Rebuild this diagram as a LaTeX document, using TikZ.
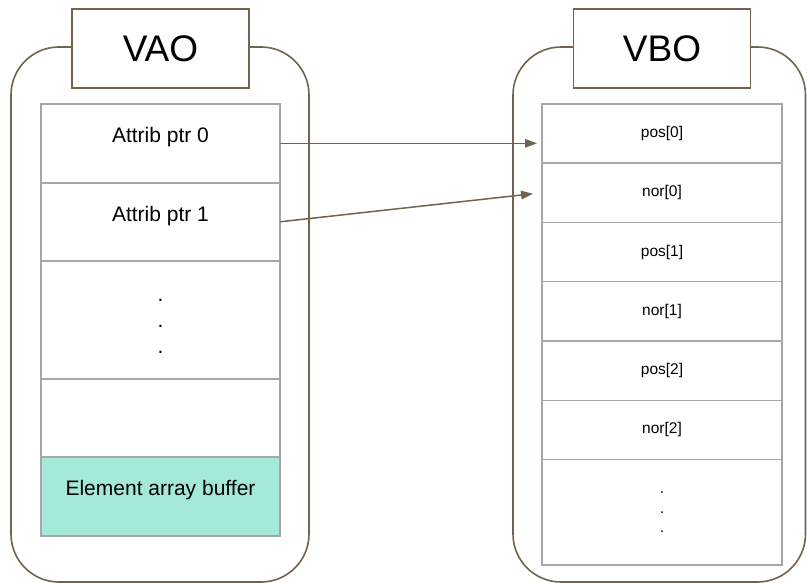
\documentclass[tikz,border=0pt]{standalone}
\usepackage{fontspec}
\setmainfont{Liberation Sans}
\usetikzlibrary{arrows.meta, positioning}
\definecolor{framebrown}{RGB}{112,100,78}
\definecolor{cellgray}{RGB}{166,166,166}
\definecolor{bufferteal}{RGB}{164,232,218}

\begin{document}
\begin{tikzpicture}[x=1pt, y=-1pt, >={Triangle[length=12pt, width=8.5pt]},
    frame/.style={draw=framebrown, line width=1.6pt, rounded corners=48pt},
    title/.style={draw=framebrown, line width=1.6pt, fill=white, minimum width=177pt, minimum height=79pt, font=\fontsize{37}{40}\selectfont},
    cell/.style={draw=cellgray, line width=1.5pt, minimum width=239pt, outer sep=0pt, inner sep=0pt, align=center},
    vaotext/.style={inner sep=0pt, align=center, font=\fontsize{21}{26}\selectfont},
    vbotext/.style={font=\fontsize{15.5}{19.5}\selectfont},
    link/.style={->, draw=framebrown, line width=1.5pt}]

    \useasboundingbox (0,0) rectangle (807,583);
    \draw[frame] (11,47) rectangle (309,582);
    \draw[frame] (513,47) rectangle (805.5,582);

    \node[title] (vao) at (160.5,48.5) {VAO};
    \node[cell, minimum height=79pt, below=15pt of vao] (ptr0) {};
    \node[cell, minimum height=78pt, below=0pt of ptr0] (ptr1) {};
    \node[cell, minimum height=118pt, below=0pt of ptr1] (vaodots) {};
    \node[cell, minimum height=78pt, below=0pt of vaodots] (spare) {};
    \node[cell, fill=bufferteal, minimum height=79pt, below=0pt of spare] (ebo) {};
    \node[vaotext, below=23pt of ptr0.north] (ptr0text) {Attrib ptr 0};
    \node[vaotext, below=23pt of ptr1.north] (ptr1text) {Attrib ptr 1};
    \node[vaotext, yshift=-7pt] at (vaodots) (vaodotstext) {.\\.\\.};
    \node[vaotext, below=23pt of ebo.north] (ebotext) {Element array buffer};

    \node[title] (vbo) at (662,48.5) {VBO};
    \node[cell, vbotext, minimum width=240pt, minimum height=59.3pt, below=15pt of vbo] (pos0) {pos[0]};
    \node[cell, vbotext, minimum width=240pt, minimum height=59.3pt, below=0pt of pos0] (nor0) {nor[0]};
    \node[cell, vbotext, minimum width=240pt, minimum height=59.3pt, below=0pt of nor0] (pos1) {pos[1]};
    \node[cell, vbotext, minimum width=240pt, minimum height=59.3pt, below=0pt of pos1] (nor1) {nor[1]};
    \node[cell, vbotext, minimum width=240pt, minimum height=59.3pt, below=0pt of nor1] (pos2) {pos[2]};
    \node[cell, vbotext, minimum width=240pt, minimum height=59.3pt, below=0pt of pos2] (nor2) {nor[2]};
    \node[cell, vbotext, minimum width=240pt, minimum height=105.5pt, below=0pt of nor2] (vbodots) {.\\.\\.};

    \draw[link, shorten >=5pt] (ptr0.east) -- (ptr0.east -| pos0.west);
    \draw[link, shorten >=9pt] (ptr1.east) -- (nor0.west);
\end{tikzpicture}
\end{document}
